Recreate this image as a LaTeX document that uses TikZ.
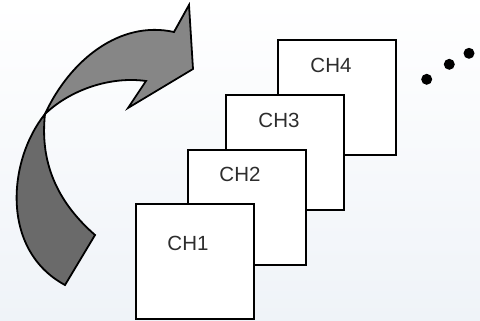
\documentclass[tikz,border=0pt]{standalone}
\usepackage{fontspec}
\setmainfont{Liberation Sans}
\definecolor{bgbottom}{RGB}{239,243,248}
\definecolor{bandlight}{RGB}{134,134,134}
\definecolor{banddark}{RGB}{106,106,106}
\definecolor{labelcol}{RGB}{45,45,45}
\begin{document}
\begin{tikzpicture}[x=1pt,y=-1pt,
  chbox/.style={draw=black,line width=2pt,fill=white,rectangle,anchor=north west,
    minimum width=118pt,minimum height=115pt,inner sep=0pt,outer sep=0pt},
  chlabel/.style={text=labelcol,inner sep=0pt,font=\fontsize{20.5}{24}\selectfont},
  band/.style={draw=black,line width=1.8pt,line join=miter,miter limit=10},
  dotmark/.style={circle,fill=black,minimum size=11pt,inner sep=0pt}]
\useasboundingbox (0,0) rectangle (480,321);
\shade[top color=white,bottom color=bgbottom] (0,0) rectangle (480,321);
% curved twisted arrow
\draw[band,fill=banddark] (45,114) .. controls (8,160) and (0,250) .. (65,285)
  -- (95,235) .. controls (55,200) and (40,160) .. (45,114) -- cycle;
\draw[band,fill=bandlight] (45,114) .. controls (70,60) and (120,20) .. (174,32)
  -- (189,5) -- (193,69) -- (128,108) -- (146,81)
  .. controls (110,76) and (70,90) .. (45,114) -- cycle;
% channel boxes
\node[chbox] (ch4) at (278,40) {};
\node[chlabel] (l4) at (331,65) {CH4};
\node[chbox] (ch3) at (226,95) {};
\node[chlabel] (l3) at (279,120) {CH3};
\node[chbox] (ch2) at (188,150) {};
\node[chlabel] (l2) at (240,174) {CH2};
\node[chbox] (ch1) at (136,204) {};
\node[chlabel] (l1) at (188,243) {CH1};
% ellipsis dots
\node[dotmark] (d1) at (426.7,79.3) {};
\node[dotmark] (d2) at (449.3,64.3) {};
\node[dotmark] (d3) at (469,53.3) {};
\end{tikzpicture}
\end{document}
